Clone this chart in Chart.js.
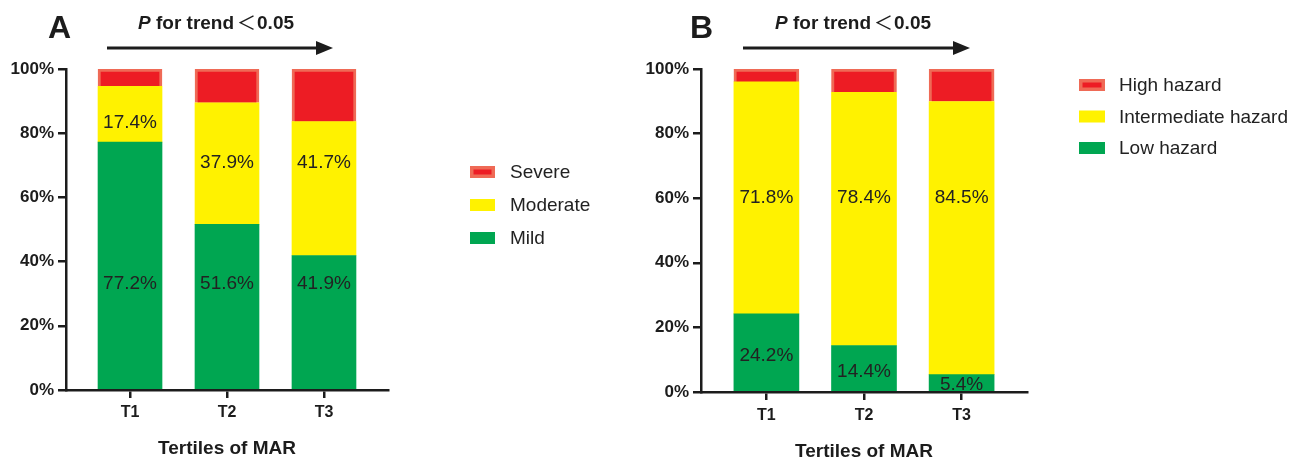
<!DOCTYPE html>
<html>
<head>
<meta charset="utf-8">
<script src="https://cdn.jsdelivr.net/npm/chart.js@4.4.0/dist/chart.umd.min.js"></script>
<style>
  html, body { margin: 0; padding: 0; background: #ffffff; }
  #wrap { position: relative; width: 1306px; height: 463px; overflow: hidden; }
  #chartA { position: absolute; left: 0; top: 0; }
  #chartB { position: absolute; left: 640px; top: 0; }
</style>
</head>
<body>
<div id="wrap">
  <canvas id="chartA" width="640" height="463"></canvas>
  <canvas id="chartB" width="666" height="463"></canvas>
</div>
<script>
// Tertile groups and the percentage in each category (stacked to 100%)
const tertiles = ['T1', 'T2', 'T3'];
const yTickValues = [0, 20, 40, 60, 80, 100];

// Panel A: severity
const mild = [77.2, 51.6, 41.9];
const moderate = [17.4, 37.9, 41.7];
const severe = [5.4, 10.5, 16.4];

// Panel B: hazard level
const lowHazard = [24.2, 14.4, 5.4];
const intermediateHazard = [71.8, 78.4, 84.5];
const highHazard = [4.0, 7.2, 10.1];

const FONT = "'Liberation Sans', Arial, Helvetica, sans-serif";
const INK = '#1c1c1c';
const GREEN = '#00a651';
const YELLOW = '#fff200';
const RED = '#ed1c24';
const RED_EDGE = '#ef6a56';

Chart.defaults.font.family = FONT;
Chart.defaults.color = INK;

function points(values) {
  return values.map((v, i) => ({ x: i + 1, y: v }));
}

// Percentage labels written inside the bar segments
const segmentLabels = {
  id: 'segmentLabels',
  afterDatasetsDraw(chart) {
    const { ctx, scales } = chart;
    ctx.save();
    ctx.font = '19px ' + FONT;
    ctx.fillStyle = '#222222';
    ctx.textAlign = 'center';
    ctx.textBaseline = 'middle';
    chart.data.datasets.forEach((ds, di) => {
      if (!ds.labelLevels) return;
      const meta = chart.getDatasetMeta(di);
      meta.data.forEach((bar, i) => {
        const y = scales.y.getPixelForValue(ds.labelLevels[i]);
        ctx.fillText(ds.data[i].y.toFixed(1) + '%', bar.x, y);
      });
    });
    ctx.restore();
  }
};

// Panel letter, trend note and arrow above the plot
const panelHeader = {
  id: 'panelHeader',
  afterDraw(chart, args, opts) {
    const ctx = chart.ctx;
    ctx.save();
    ctx.fillStyle = INK;
    ctx.textBaseline = 'alphabetic';
    ctx.textAlign = 'left';
    ctx.font = 'bold 32px ' + FONT;
    ctx.fillText(opts.letter, opts.letterX, 38);

    ctx.font = 'italic bold 19px ' + FONT;
    ctx.fillText('P', opts.textX, 29);
    let x = opts.textX + ctx.measureText('P ').width;
    ctx.font = 'bold 19px ' + FONT;
    ctx.fillText('for trend', x, 29);
    x += ctx.measureText('for trend').width + 3;
    ctx.font = '19px "Noto Sans CJK SC", ' + FONT;
    ctx.fillText('\uFF1C', x, 30);
    x += ctx.measureText('\uFF1C').width + 1;
    ctx.font = 'bold 19px ' + FONT;
    ctx.fillText('0.05', x, 29);

    ctx.strokeStyle = INK;
    ctx.lineWidth = 3;
    ctx.beginPath();
    ctx.moveTo(opts.arrowStart, 48);
    ctx.lineTo(opts.arrowEnd - 14, 48);
    ctx.stroke();
    ctx.beginPath();
    ctx.moveTo(opts.arrowEnd - 17, 41);
    ctx.lineTo(opts.arrowEnd, 48);
    ctx.lineTo(opts.arrowEnd - 17, 55);
    ctx.closePath();
    ctx.fill();
    ctx.restore();
  }
};

// Legend listing the stacked categories from top to bottom
const sideLegend = {
  id: 'sideLegend',
  afterDraw(chart, args, opts) {
    const ctx = chart.ctx;
    const sets = chart.data.datasets.slice().reverse();
    ctx.save();
    ctx.font = '19px ' + FONT;
    ctx.textBaseline = 'middle';
    ctx.textAlign = 'left';
    sets.forEach((ds, i) => {
      const cy = opts.y + i * opts.gap;
      const top = cy - opts.boxH / 2;
      if (ds.borderWidth) {
        ctx.fillStyle = ds.borderColor;
        ctx.fillRect(opts.x, top, opts.boxW, opts.boxH);
        ctx.fillStyle = ds.backgroundColor;
        ctx.fillRect(opts.x + 3.5, top + 3.5, opts.boxW - 7, opts.boxH - 7);
      } else {
        ctx.fillStyle = ds.backgroundColor;
        ctx.fillRect(opts.x, top, opts.boxW, opts.boxH);
      }
      ctx.fillStyle = '#222222';
      ctx.fillText(ds.label, opts.textX, cy + 1);
    });
    ctx.restore();
  }
};

function buildChart(canvasId, p) {
  return new Chart(document.getElementById(canvasId), {
    type: 'bar',
    data: { datasets: p.datasets },
    options: {
      responsive: false,
      animation: false,
      devicePixelRatio: 1,
      layout: { padding: { left: 0, right: p.padRight, top: 69, bottom: 0 } },
      datasets: { bar: { barThickness: p.barWidth } },
      plugins: {
        legend: { display: false },
        tooltip: { enabled: false },
        panelHeader: p.header,
        sideLegend: p.legend
      },
      scales: {
        x: {
          type: 'linear',
          stacked: true,
          offset: false,
          min: p.xMin,
          max: p.xMax,
          afterBuildTicks: s => { s.ticks = [1, 2, 3].map(v => ({ value: v })); },
          afterFit: s => { s.height = p.xAxisHeight; },
          ticks: {
            callback: v => tertiles[v - 1],
            font: { size: 16, weight: 'bold' },
            color: INK,
            padding: p.xTickPad,
            maxRotation: 0,
            autoSkip: false
          },
          grid: { offset: false, drawOnChartArea: false, drawTicks: true, tickLength: 8, color: INK, lineWidth: 2.5 },
          border: { display: true, color: INK, width: 2.5 },
          title: {
            display: true,
            text: 'Tertiles of MAR',
            font: { size: 19, weight: 'bold' },
            color: INK,
            padding: { top: 0, bottom: p.titlePad }
          }
        },
        y: {
          stacked: true,
          min: 0,
          max: 100,
          afterBuildTicks: s => { s.ticks = yTickValues.map(v => ({ value: v })); },
          afterFit: s => { s.width = p.yAxisWidth; },
          ticks: {
            callback: v => v + '%',
            font: { size: 17, weight: 'bold' },
            color: INK,
            padding: 4
          },
          grid: { drawOnChartArea: false, drawTicks: true, tickLength: 8, color: INK, lineWidth: 2.5 },
          border: { display: true, color: INK, width: 2.5 }
        }
      }
    },
    plugins: [segmentLabels, panelHeader, sideLegend]
  });
}

buildChart('chartA', {
  padRight: 252,
  yAxisWidth: 66,
  xAxisHeight: 73,
  xTickPad: 5,
  titlePad: 3,
  barWidth: 64,
  xMin: 0.34,
  xMax: 3.66,
  header: { letter: 'A', letterX: 48, textX: 138, arrowStart: 107, arrowEnd: 333 },
  legend: { x: 470, y: 172, gap: 33, boxW: 25, boxH: 12, textX: 510 },
  datasets: [
    { label: 'Mild', data: points(mild), backgroundColor: GREEN, borderWidth: 0,
      labelLevels: [33, 33, 33] },
    { label: 'Moderate', data: points(moderate), backgroundColor: YELLOW, borderWidth: 0,
      labelLevels: [83.3, 70.7, 70.7] },
    { label: 'Severe', data: points(severe), backgroundColor: RED, borderColor: RED_EDGE,
      borderWidth: 3, borderSkipped: 'start' }
  ]
});

buildChart('chartB', {
  padRight: 279,
  yAxisWidth: 61,
  xAxisHeight: 71,
  xTickPad: 6,
  titlePad: 0,
  barWidth: 65,
  xMin: 0.33,
  xMax: 3.67,
  header: { letter: 'B', letterX: 50, textX: 135, arrowStart: 103, arrowEnd: 330 },
  legend: { x: 439, y: 85, gap: 31.5, boxW: 26, boxH: 12, textX: 479 },
  datasets: [
    { label: 'Low hazard', data: points(lowHazard), backgroundColor: GREEN, borderWidth: 0,
      labelLevels: [11.3, 6.3, 2.2] },
    { label: 'Intermediate hazard', data: points(intermediateHazard), backgroundColor: YELLOW, borderWidth: 0,
      labelLevels: [60.1, 60.1, 60.1] },
    { label: 'High hazard', data: points(highHazard), backgroundColor: RED, borderColor: RED_EDGE,
      borderWidth: 3, borderSkipped: 'start' }
  ]
});
</script>
</body>
</html>
